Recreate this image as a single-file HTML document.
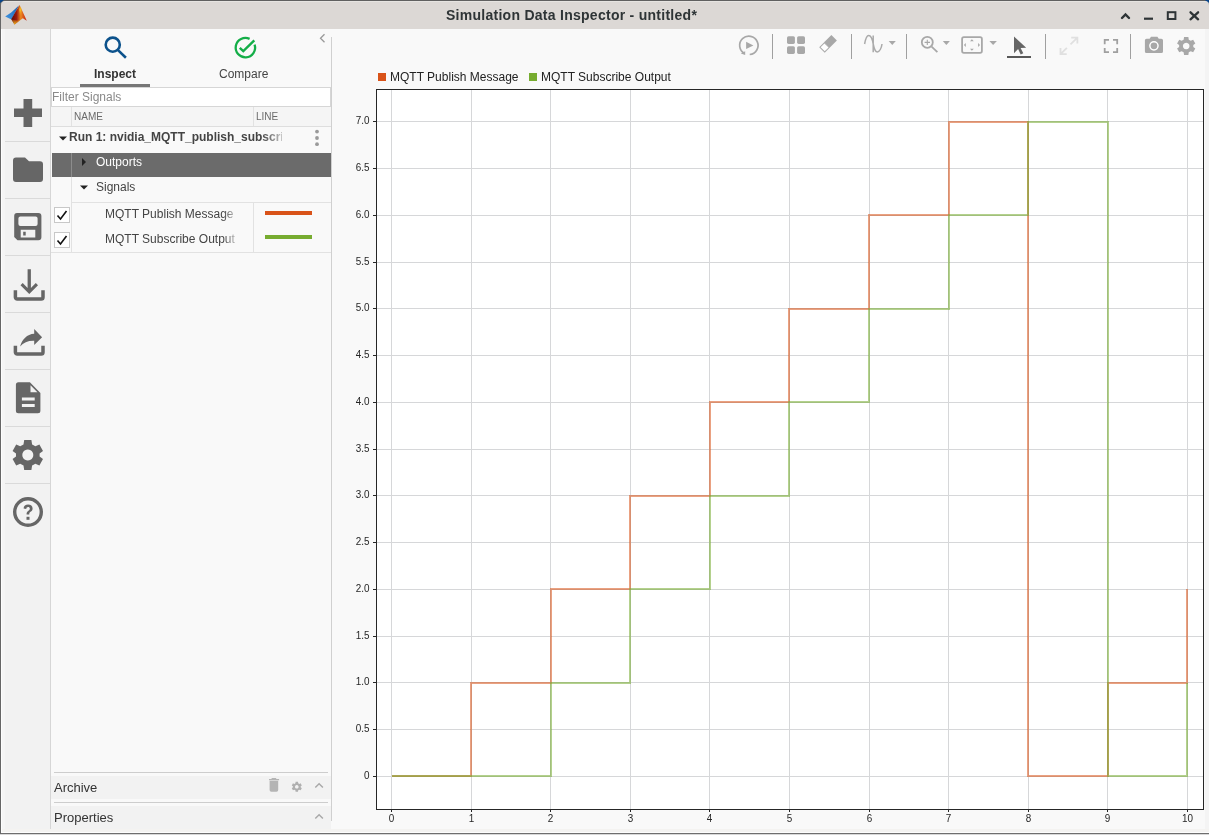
<!DOCTYPE html>
<html><head><meta charset="utf-8">
<style>
*{margin:0;padding:0;box-sizing:border-box}
.a{will-change:transform}
html,body{width:1209px;height:835px;overflow:hidden;background:#f7f7f7;font-family:"Liberation Sans",sans-serif;position:relative}
.a{position:absolute}
#frame{left:0;top:0;width:1209px;height:835px}
#titlebar{left:1px;top:1px;width:1208px;height:28px;background:#dcd8d5;border-radius:4px 4px 0 0;border-top:1px solid #e6e4e1}
#title{left:446px;top:7px;font-weight:bold;font-size:14px;letter-spacing:0.27px;color:#2e3436}
#sidebar{left:1px;top:29px;width:50px;height:800px;background:#f2f2f2;border-right:1px solid #d6d6d6;border-left:4px solid #f5f5f5}
.sep{left:5px;width:45px;height:1px;background:#dadada}
#lpanel{left:51px;top:29px;width:280px;height:800px;background:#f9f9f9}
#main{left:331px;top:29px;width:874px;height:800px;background:#f9f9f9}
.txt{white-space:nowrap;color:#333}
</style></head><body>
<div class="a" style="left:0;top:0;width:1209px;height:835px;background:#f4f4f4"></div>
<!-- window frame -->
<div class="a" style="left:0;top:0;width:1209px;height:8px;background:#606060"></div>
<div class="a" style="left:0;top:829px;width:1209px;height:3px;background:#f4f3f1"></div>
<div class="a" style="left:0;top:832px;width:1209px;height:1px;background:#fdfdfd"></div>
<div class="a" style="left:0;top:833px;width:1209px;height:1px;background:#6e6e6e"></div>
<div class="a" style="left:0;top:834px;width:1209px;height:1px;background:#d8d8d8"></div>
<div class="a" style="left:0;top:0;width:1px;height:834px;background:#666"></div>
<div class="a" style="left:1px;top:829px;width:1px;height:3px;background:#fdfdfd"></div>
<svg class="a" style="left:0;top:0" width="1209" height="6"><path d="M0 0H4L0 3Z" fill="#08458a"/><path d="M1205 0H1209V4Z" fill="#08458a"/></svg>
<div id="titlebar" class="a"></div>
<div id="title" class="a">Simulation Data Inspector - untitled*</div>

<div id="sidebar" class="a"></div>
<div class="a sep" style="top:141px"></div>
<div class="a sep" style="top:198px"></div>
<div class="a sep" style="top:255px"></div>
<div class="a sep" style="top:312px"></div>
<div class="a sep" style="top:369px"></div>
<div class="a sep" style="top:426px"></div>
<div class="a sep" style="top:483px"></div>

<svg class="a" style="left:0;top:0" width="51" height="560" fill="#666">
<!-- plus -->
<path d="M23.5 99H32.2V108.6H42V116.9H32.2V127H23.5V116.9H14V108.6H23.5Z"/>
<!-- folder -->
<path d="M16 157.4H25L29 161.2H40A3 3 0 0 1 43 164.2V179A3 3 0 0 1 40 182H16A3 3 0 0 1 13 179V160.4A3 3 0 0 1 16 157.4Z"/>
<!-- save -->
<path fill-rule="evenodd" d="M17 213H38.4A3 3 0 0 1 41.4 216V237.3A3 3 0 0 1 38.4 240.3H17.5L14.2 237V216A3 3 0 0 1 17 213ZM20.4 216.4H35.6A2 2 0 0 1 37.6 218.4V224A2 2 0 0 1 35.6 226H20.4A2 2 0 0 1 18.4 224V218.4A2 2 0 0 1 20.4 216.4ZM20.7 229.8H35.3V237.5H20.7ZM23.2 231.7V235.5H25.7V231.7Z"/>
<!-- download -->
<path d="M27.6 269.2H30.9V288L35.8 283.1L38 285.3L29.25 294L20.5 285.3L22.7 283.1L27.6 288Z"/>
<path d="M15.4 290.3V297.3A1.8 1.8 0 0 0 17.2 299.1H41.2A1.8 1.8 0 0 0 43 297.3V290.3" fill="none" stroke="#666" stroke-width="3.5"/>
<!-- share -->
<path d="M15.4 345.8V352.3A1.8 1.8 0 0 0 17.2 354.1H41.2A1.8 1.8 0 0 0 43 352.3V345.8" fill="none" stroke="#666" stroke-width="3.5"/>
<path d="M20.1 346.6C22 339.5 27 334.2 34.2 333.8V329.1L42.1 337.2L34.2 345V340.7C28 340.5 23.5 342.5 20.1 346.6Z"/>
<!-- doc -->
<path fill-rule="evenodd" d="M18.4 382.2H29.9L40.4 393V410.7A2.5 2.5 0 0 1 37.9 413.2H18.4A2.5 2.5 0 0 1 15.9 410.7V384.7A2.5 2.5 0 0 1 18.4 382.2ZM30.5 385.2V392.3H37.4ZM21.9 397.4H34.7V400.5H21.9ZM21.9 403.9H34.7V407H21.9Z"/>
<!-- gear -->
<g transform="translate(27.8 455)">
<path fill-rule="evenodd" d="M-3.6 -15.1H3.6L4.3 -10.6L7.6 -8.7L11.6 -10.4L15.2 -4.1L11.8 -1.6V1.6L15.2 4.1L11.6 10.4L7.6 8.7L4.3 10.6L3.6 15.1H-3.6L-4.3 10.6L-7.6 8.7L-11.6 10.4L-15.2 4.1L-11.8 1.6V-1.6L-15.2 -4.1L-11.6 -10.4L-7.6 -8.7L-4.3 -10.6ZM0 -5.5A5.5 5.5 0 1 0 0.01 -5.5Z"/>
</g>
<!-- help -->
<circle cx="28" cy="512" r="13.3" fill="none" stroke="#666" stroke-width="3.4"/>
<path d="M23.6 508.5C23.6 505.8 25.6 504.6 28.1 504.6C30.8 504.6 32.6 506.2 32.6 508.4C32.6 510.3 31.5 511.2 30.2 512.1C29.2 512.8 29.3 513.5 29.3 514.6H26.6C26.5 512.8 26.9 511.8 28.4 510.8C29.4 510.1 29.8 509.6 29.8 508.6C29.8 507.6 29.1 507 28.1 507C27 507 26.3 507.7 26.3 508.9Z"/>
<rect x="26.5" y="516.8" width="3" height="3"/>
</svg>

<div class="a" style="left:1px;top:29px;width:1px;height:804px;background:#fdfdfd"></div>
<div id="lpanel" class="a"></div>
<div id="main" class="a"></div>
<div class="a" style="left:331px;top:37px;width:1px;height:784px;background:#d0d0d0"></div>


<!-- tabs -->
<div class="a txt" style="left:94px;top:67px;font-size:12px;font-weight:bold;color:#333">Inspect</div>
<div class="a" style="left:80px;top:84px;width:70px;height:3px;background:#777"></div>
<div class="a txt" style="left:219px;top:67px;font-size:12px;color:#444">Compare</div>

<svg class="a" style="left:0;top:0" width="340" height="70">
<circle cx="112.75" cy="44.7" r="7.05" fill="none" stroke="#0c528c" stroke-width="2.6"/>
<path d="M118 50.1L125.9 57.7" stroke="#0c528c" stroke-width="2.6" fill="none"/>
<path d="M249.6 38.9A9.7 9.7 0 1 0 254.6 44.6" stroke="#14ae48" stroke-width="2.3" fill="none"/>
<path d="M239.8 47.8L243.3 51.1L254.3 40.4" stroke="#14ae48" stroke-width="2.4" fill="none"/>
<path d="M324.5 34.3L320.5 38.3L324.5 42.3" stroke="#999" stroke-width="1.3" fill="none"/>
</svg>
<!-- filter -->
<div class="a" style="left:51px;top:87px;width:280px;height:20px;background:#fff;border:1px solid #d6d6d6"></div>
<div class="a txt" style="left:52px;top:90px;font-size:12px;color:#8a8a8a">Filter Signals</div>

<!-- tree -->
<div class="a" style="left:51px;top:107px;width:280px;height:20px;background:#f5f5f5;border-bottom:1px solid #dedede"></div>
<div class="a" style="left:71px;top:107px;width:1px;height:19px;background:#e2e2e2"></div>
<div class="a" style="left:253px;top:107px;width:1px;height:19px;background:#e2e2e2"></div>
<div class="a txt" style="left:74px;top:111px;font-size:10px;color:#6a6a6a">NAME</div>
<div class="a txt" style="left:256px;top:111px;font-size:10px;color:#6a6a6a">LINE</div>
<div class="a" style="left:51px;top:127px;width:280px;height:26px;background:#f9f9f9"></div>
<svg class="a" style="left:0;top:0" width="340" height="260">
<path d="M59 136.5H67L63 140.5Z" fill="#222"/>
<circle cx="317" cy="131.6" r="1.9" fill="#9a9a9a"/><circle cx="317" cy="138" r="1.9" fill="#9a9a9a"/><circle cx="317" cy="144.2" r="1.9" fill="#9a9a9a"/>
</svg>
<div class="a txt" style="left:69px;top:130px;font-size:12px;font-weight:bold;color:#444;width:213px;overflow:hidden;-webkit-mask-image:linear-gradient(to right,#000 192px,rgba(0,0,0,0.3) 213px)">Run 1: nvidia_MQTT_publish_subscribe</div>
<div class="a" style="left:52px;top:153px;width:279px;height:24px;background:#6b6b6b"></div>
<div class="a" style="left:71px;top:153px;width:1px;height:24px;background:#8c8c8c"></div>
<svg class="a" style="left:0;top:0" width="340" height="260">
<path d="M82 158V166L86 162Z" fill="#222"/>
<path d="M80 185.5H88L84 189.5Z" fill="#222"/>
</svg>
<div class="a txt" style="left:96px;top:155px;font-size:12px;color:#fff">Outports</div>
<div class="a" style="left:71px;top:177px;width:1px;height:75px;background:#e2e2e2"></div>
<div class="a txt" style="left:96px;top:180px;font-size:12px;color:#444">Signals</div>
<div class="a" style="left:72px;top:202px;width:259px;height:1px;background:#e2e2e2"></div>
<div class="a" style="left:253px;top:202px;width:1px;height:50px;background:#e2e2e2"></div>
<div class="a" style="left:51px;top:252px;width:280px;height:1px;background:#e2e2e2"></div>
<div class="a" style="left:54px;top:207px;width:16px;height:16px;background:#fff;border:1px solid #c8c8c8"></div>
<div class="a" style="left:54px;top:232px;width:16px;height:16px;background:#fff;border:1px solid #c8c8c8"></div>
<svg class="a" style="left:0;top:0" width="340" height="260">
<path d="M57.5 215.5L60.5 219L66.5 211" stroke="#111" stroke-width="1.6" fill="none"/>
<path d="M57.5 240.5L60.5 244L66.5 236" stroke="#111" stroke-width="1.6" fill="none"/>
</svg>
<div class="a txt" style="left:105px;top:207px;font-size:12px;color:#444;width:130px;overflow:hidden;-webkit-mask-image:linear-gradient(to right,#000 118px,rgba(0,0,0,0.3) 130px)">MQTT Publish Message</div>
<div class="a txt" style="left:105px;top:232px;font-size:12px;color:#444;width:131px;overflow:hidden;-webkit-mask-image:linear-gradient(to right,#000 118px,rgba(0,0,0,0.3) 131px)">MQTT Subscribe Output</div>
<div class="a" style="left:265px;top:211px;width:47px;height:4px;background:#d95319"></div>
<div class="a" style="left:265px;top:235px;width:47px;height:4px;background:#77ac30"></div>
<!-- legend -->
<div class="a" style="left:378px;top:73px;width:8px;height:8px;background:#d95319"></div>
<div class="a txt" style="left:390px;top:70px;font-size:12px;color:#222">MQTT Publish Message</div>
<div class="a" style="left:529px;top:73px;width:8px;height:8px;background:#77ac30"></div>
<div class="a txt" style="left:541px;top:70px;font-size:12px;color:#222">MQTT Subscribe Output</div>

<!-- titlebar buttons & logo -->
<svg class="a" style="left:0;top:0" width="1209" height="30">
<defs>
<linearGradient id="lg1" x1="0" y1="1" x2="1" y2="0"><stop offset="0" stop-color="#4195e0"/><stop offset="0.6" stop-color="#2a78c8"/><stop offset="1" stop-color="#1a55a0"/></linearGradient>
<linearGradient id="lg2" x1="0" y1="0" x2="1" y2="0"><stop offset="0" stop-color="#5a0a0a"/><stop offset="0.35" stop-color="#9a1a10"/><stop offset="0.62" stop-color="#ec8a20"/><stop offset="0.8" stop-color="#d8501a"/><stop offset="1" stop-color="#c0200e"/></linearGradient>
<linearGradient id="lg3" x1="0" y1="0" x2="0" y2="1"><stop offset="0" stop-color="#f0a020" stop-opacity="0"/><stop offset="1" stop-color="#f8c018"/></linearGradient>
<linearGradient id="lg4" x1="0" y1="0" x2="0" y2="1"><stop offset="0" stop-color="#f7c520" stop-opacity="0.2"/><stop offset="0.4" stop-color="#f7c020"/><stop offset="1" stop-color="#ef8a1a" stop-opacity="0"/></linearGradient>
</defs>
<path d="M5.2 16.4L11.2 12.6L18.9 5.6L15.2 12.4L11.4 19.6Z" fill="url(#lg1)"/>
<path d="M19.6 5L26.8 20.8L22.8 18.3L14.5 24.6L11.2 19.3L15.2 12.2Z" fill="url(#lg2)"/>
<path d="M19.8 6.2L21.3 8L21.5 14.5L19.6 16L19.2 9Z" fill="url(#lg4)"/>
<path d="M11.6 19.6L17.5 20.5L22.8 18.3L14.5 24.6Z" fill="url(#lg3)"/>
<path d="M1122 18L1125.5 14.4L1129 18" stroke="#2e3436" stroke-width="2.4" stroke-linecap="round" fill="none"/>
<path d="M1144 18.7H1153" stroke="#2e3436" stroke-width="2.2" fill="none"/>
<rect x="1167.8" y="12.2" width="7.6" height="6.8" stroke="#2e3436" stroke-width="2" fill="none"/>
<path d="M1190.5 12.3L1198.1 19.3M1198.1 12.3L1190.5 19.3" stroke="#2e3436" stroke-width="2.3" stroke-linecap="round" fill="none"/>
</svg>
<!-- toolbar -->
<svg class="a" style="left:0;top:0" width="1209" height="70">
<g fill="#a8a8a8" stroke="none">
<path d="M744.6 53.5A9.2 9.2 0 1 1 749.7 54.5" fill="none" stroke="#a8a8a8" stroke-width="1.7"/>
<path d="M740.8 53.6L745.2 51.2V55Z"/>
<path d="M746.1 41.8V49.1L753.4 45.5Z"/>
<rect x="772" y="34" width="1" height="25" fill="#a0a0a0"/>
<rect x="787" y="36.2" width="7.9" height="7.7" rx="1.6"/>
<rect x="797.1" y="36.2" width="7.9" height="7.7" rx="1.6"/>
<rect x="787" y="46.2" width="7.9" height="7.7" rx="1.6"/>
<rect x="797.1" y="46.2" width="7.9" height="7.7" rx="1.6"/>
<g transform="translate(828.05 43.9) rotate(45)">
<rect x="-3.9" y="-8.6" width="7.8" height="10.3"/>
<rect x="-3.4" y="1.7" width="6.8" height="6.4" fill="#fff" stroke="#aaa" stroke-width="1"/>
</g>
<rect x="851" y="34" width="1" height="25" fill="#a0a0a0"/>
<path d="M864.6 44C865.5 39 867 35.5 868.7 35.5C871 35.5 872.5 40 873.2 44C874 48 875.5 52 877.3 52C879.5 52 881.5 48 882 44M873.2 35.5V52.3" fill="none" stroke="#aaa" stroke-width="1.5"/>
<path d="M888.7 41.1H895.8L892.25 45Z"/>
<rect x="906" y="34" width="1" height="25" fill="#a0a0a0"/>
<circle cx="927.3" cy="42.3" r="5.5" fill="none" stroke="#a8a8a8" stroke-width="1.8"/>
<path d="M931.6 46.6L937.4 52.2" fill="none" stroke="#a8a8a8" stroke-width="1.8"/><path d="M924.6 42.4H930M927.3 39.7V45.1" fill="none" stroke="#a8a8a8" stroke-width="1.1"/>
<path d="M942.8 41.1H949.9L946.35 45Z"/>
<rect x="962.1" y="37.1" width="19.8" height="15.7" rx="1.8" fill="none" stroke="#a8a8a8" stroke-width="1.8"/>
<path d="M970 41.2L971.9 39.3L973.8 41.2ZM970 48.8L971.9 50.7L973.8 48.8ZM965.8 43.1L963.9 45L965.8 46.9ZM978.1 43.1L980 45L978.1 46.9Z"/>
<path d="M989.4 40.9H996.9L993.15 45Z"/>
<path d="M1014 36.4L1026.2 47.7L1020.6 47.9L1023.3 53.2L1020.7 54.4L1018.1 49.1L1014 53.2Z" fill="#666"/>
<rect x="1007" y="56" width="24" height="2" fill="#585858"/>
<rect x="1045" y="34" width="1" height="25" fill="#a0a0a0"/>
<path d="M1071.2 37.6H1077.4V43.6M1077.4 37.6L1070.5 44.3M1060.5 48V54.2H1066.7M1060.5 54.2L1066.9 47.8" fill="none" stroke="#e0e0e0" stroke-width="1.8"/>
<path d="M1104.7 44.2V39.9H1109M1113 39.9H1117.2V44.2M1117.2 48V52.2H1113M1109 52.2H1104.7V48" fill="none" stroke="#a0a0a0" stroke-width="1.8"/>
<rect x="1130" y="34" width="1" height="25" fill="#a0a0a0"/>
<path fill-rule="evenodd" d="M1149.6 38.7L1151 36.8H1157.4L1158.8 38.7H1161.4A1.6 1.6 0 0 1 1163 40.3V51.5A1.6 1.6 0 0 1 1161.4 53.1H1146.5A1.6 1.6 0 0 1 1144.9 51.5V40.3A1.6 1.6 0 0 1 1146.5 38.7Z"/>
<circle cx="1153.95" cy="45.8" r="4.1" fill="none" stroke="#fff" stroke-width="1.45"/>
<g transform="translate(1186.2 46) scale(0.6)">
<path fill-rule="evenodd" d="M-3.6 -15.1H3.6L4.3 -10.6L7.6 -8.7L11.6 -10.4L15.2 -4.1L11.8 -1.6V1.6L15.2 4.1L11.6 10.4L7.6 8.7L4.3 10.6L3.6 15.1H-3.6L-4.3 10.6L-7.6 8.7L-11.6 10.4L-15.2 4.1L-11.8 1.6V-1.6L-15.2 -4.1L-11.6 -10.4L-7.6 -8.7L-4.3 -10.6ZM0 -5.5A5.5 5.5 0 1 0 0.01 -5.5Z"/>
</g>
</g>
</svg>
<!-- archive / properties -->
<div class="a" style="left:54px;top:772px;width:274px;height:1px;background:#cdcdcd"></div>
<div class="a" style="left:51px;top:776px;width:280px;height:23px;background:#f2f2f2"></div>
<div class="a" style="left:54px;top:802px;width:274px;height:1px;background:#cdcdcd"></div>
<div class="a" style="left:51px;top:806px;width:280px;height:23px;background:#f2f2f2"></div>
<div class="a txt" style="left:54px;top:780px;font-size:13px;color:#333">Archive</div>
<div class="a txt" style="left:54px;top:810px;font-size:13px;color:#333">Properties</div>
<svg class="a" style="left:0;top:760px" width="340" height="75">
<g transform="translate(0 -760)">
<path d="M271.6 778H276.2V779H279.1V780.2H269V779H271.6Z" fill="#b4b4b4"/>
<path d="M269.6 780.8H278.2V790A1.7 1.7 0 0 1 276.5 791.7H271.3A1.7 1.7 0 0 1 269.6 790Z" fill="#b4b4b4"/>
<g transform="translate(296.8 786.8) scale(0.33)" fill="#b0b0b0">
<path fill-rule="evenodd" d="M-3.6 -15.1H3.6L4.3 -10.6L7.6 -8.7L11.6 -10.4L15.2 -4.1L11.8 -1.6V1.6L15.2 4.1L11.6 10.4L7.6 8.7L4.3 10.6L3.6 15.1H-3.6L-4.3 10.6L-7.6 8.7L-11.6 10.4L-15.2 4.1L-11.8 1.6V-1.6L-15.2 -4.1L-11.6 -10.4L-7.6 -8.7L-4.3 -10.6ZM0 -5.5A5.5 5.5 0 1 0 0.01 -5.5Z"/>
</g>
<path d="M315.3 787.6L319.1 783.8L322.9 787.6" stroke="#a8a8a8" stroke-width="1.4" fill="none"/>
<path d="M315.3 818.6L319.1 814.8L322.9 818.6" stroke="#a8a8a8" stroke-width="1.4" fill="none"/>
</g>
</svg>
<!-- chart -->
<svg class="a" style="left:0;top:0" width="1209" height="835" id="chart"><g font-family="Liberation Sans" font-size="11" fill="#262626"><rect x="376.5" y="89.5" width="827" height="720" fill="#fff"/>
<path d="M391.5 90V809M471.5 90V809M550.5 90V809M630.5 90V809M709.5 90V809M789.5 90V809M869.5 90V809M948.5 90V809M1028.5 90V809M1107.5 90V809M1187.5 90V809M377 776.5H1203M377 729.5H1203M377 682.5H1203M377 636.5H1203M377 589.5H1203M377 542.5H1203M377 495.5H1203M377 449.5H1203M377 402.5H1203M377 355.5H1203M377 308.5H1203M377 262.5H1203M377 215.5H1203M377 168.5H1203M377 121.5H1203" stroke="#d6d7d9" stroke-width="1" fill="none"/>
<path d="M392 776L471 776L471 683L551 683L551 589L630 589L630 496L710 496L710 402L789 402L789 309L869 309L869 215L949 215L949 122L1028 122L1028 776L1108 776L1108 683L1187 683L1187 589" stroke="#d95319" stroke-opacity="0.55" stroke-width="2" fill="none"/>
<path d="M392 776L551 776L551 683L630 683L630 589L710 589L710 496L789 496L789 402L869 402L869 309L949 309L949 215L1028 215L1028 122L1108 122L1108 776L1187 776L1187 683" stroke="#77ac30" stroke-opacity="0.55" stroke-width="2" fill="none"/>
<rect x="376.5" y="89.5" width="827" height="720" fill="none" stroke="#262626" stroke-width="1"/>
<path d="M391.5 809V812M471.5 809V812M550.5 809V812M630.5 809V812M709.5 809V812M789.5 809V812M869.5 809V812M948.5 809V812M1028.5 809V812M1107.5 809V812M1187.5 809V812M373 776.5H377M373 729.5H377M373 682.5H377M373 636.5H377M373 589.5H377M373 542.5H377M373 495.5H377M373 449.5H377M373 402.5H377M373 355.5H377M373 308.5H377M373 262.5H377M373 215.5H377M373 168.5H377M373 121.5H377" stroke="#262626" stroke-width="1" fill="none"/>
<text transform="translate(391.5 822) scale(0.9 1)" text-anchor="middle">0</text>
<text transform="translate(471.5 822) scale(0.9 1)" text-anchor="middle">1</text>
<text transform="translate(550.5 822) scale(0.9 1)" text-anchor="middle">2</text>
<text transform="translate(630.5 822) scale(0.9 1)" text-anchor="middle">3</text>
<text transform="translate(709.5 822) scale(0.9 1)" text-anchor="middle">4</text>
<text transform="translate(789.5 822) scale(0.9 1)" text-anchor="middle">5</text>
<text transform="translate(869.5 822) scale(0.9 1)" text-anchor="middle">6</text>
<text transform="translate(948.5 822) scale(0.9 1)" text-anchor="middle">7</text>
<text transform="translate(1028.5 822) scale(0.9 1)" text-anchor="middle">8</text>
<text transform="translate(1107.5 822) scale(0.9 1)" text-anchor="middle">9</text>
<text transform="translate(1187.5 822) scale(0.9 1)" text-anchor="middle">10</text>
<text transform="translate(369.5 778.5) scale(0.9 1)" text-anchor="end">0</text>
<text transform="translate(369.5 731.5) scale(0.9 1)" text-anchor="end">0.5</text>
<text transform="translate(369.5 684.5) scale(0.9 1)" text-anchor="end">1.0</text>
<text transform="translate(369.5 638.5) scale(0.9 1)" text-anchor="end">1.5</text>
<text transform="translate(369.5 591.5) scale(0.9 1)" text-anchor="end">2.0</text>
<text transform="translate(369.5 544.5) scale(0.9 1)" text-anchor="end">2.5</text>
<text transform="translate(369.5 497.5) scale(0.9 1)" text-anchor="end">3.0</text>
<text transform="translate(369.5 451.5) scale(0.9 1)" text-anchor="end">3.5</text>
<text transform="translate(369.5 404.5) scale(0.9 1)" text-anchor="end">4.0</text>
<text transform="translate(369.5 357.5) scale(0.9 1)" text-anchor="end">4.5</text>
<text transform="translate(369.5 310.5) scale(0.9 1)" text-anchor="end">5.0</text>
<text transform="translate(369.5 264.5) scale(0.9 1)" text-anchor="end">5.5</text>
<text transform="translate(369.5 217.5) scale(0.9 1)" text-anchor="end">6.0</text>
<text transform="translate(369.5 170.5) scale(0.9 1)" text-anchor="end">6.5</text>
<text transform="translate(369.5 123.5) scale(0.9 1)" text-anchor="end">7.0</text></g></svg>
</body></html>
